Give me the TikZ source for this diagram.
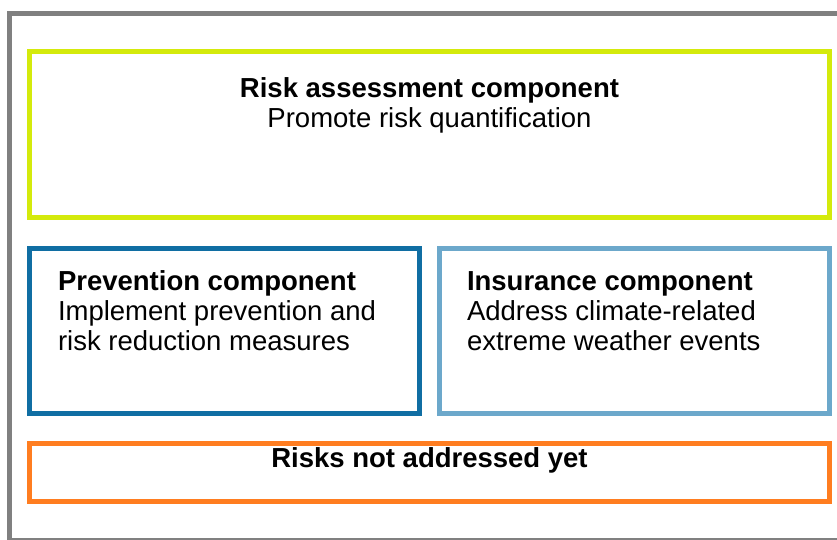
\documentclass[tikz,border=0pt]{standalone}
\usepackage{fontspec}
\setmainfont{Liberation Sans}
\definecolor{framegray}{RGB}{128,128,128}
\definecolor{limegreen}{RGB}{212,234,12}
\definecolor{darkblue}{RGB}{16,110,163}
\definecolor{lightblue}{RGB}{108,168,203}
\definecolor{orangeline}{RGB}{255,125,32}
\tikzset{
  compbox/.style={draw=#1, line width=5pt, outer sep=0pt, inner sep=0pt, anchor=north west},
  txt/.style={inner sep=0pt, outer sep=0pt, font=\fontsize{27.5}{30}\selectfont},
  boldtxt/.style={txt, font=\fontsize{27.5}{30}\selectfont\bfseries}
}
\begin{document}
\begin{tikzpicture}[x=1pt,y=-1pt]
\clip (0,0) rectangle (837,539);
\draw[framegray, line width=5pt] (9.5,13.5) rectangle (850,540.5);
\node[compbox=limegreen, minimum width=800pt, minimum height=166pt] (assess) at (29.5,51.5) {};
\node[compbox=darkblue, minimum width=390pt, minimum height=165.5pt] (prev) at (29.5,248) {};
\node[compbox=lightblue, minimum width=390pt, minimum height=165.5pt] (ins) at (439.5,248) {};
\node[compbox=orangeline, minimum width=800pt, minimum height=57.5pt] (risks) at (29.5,443.5) {};
\node[boldtxt, anchor=base] (assesst) at (429.5,97) {Risk assessment component};
\node[txt, anchor=base] (assessd) at (429.5,127) {Promote risk quantification};
\node[boldtxt, anchor=base west] (prevt) at (58,290) {Prevention component};
\node[txt, anchor=base west] (prevd1) at (58,320) {Implement prevention and};
\node[txt, anchor=base west] (prevd2) at (58,350) {risk reduction measures};
\node[boldtxt, anchor=base west] (inst) at (467,290) {Insurance component};
\node[txt, anchor=base west] (insd1) at (467,320) {Address climate-related};
\node[txt, anchor=base west] (insd2) at (467,350) {extreme weather events};
\node[boldtxt, anchor=base] (riskst) at (429.5,467) {Risks not addressed yet};
\end{tikzpicture}
\end{document}
